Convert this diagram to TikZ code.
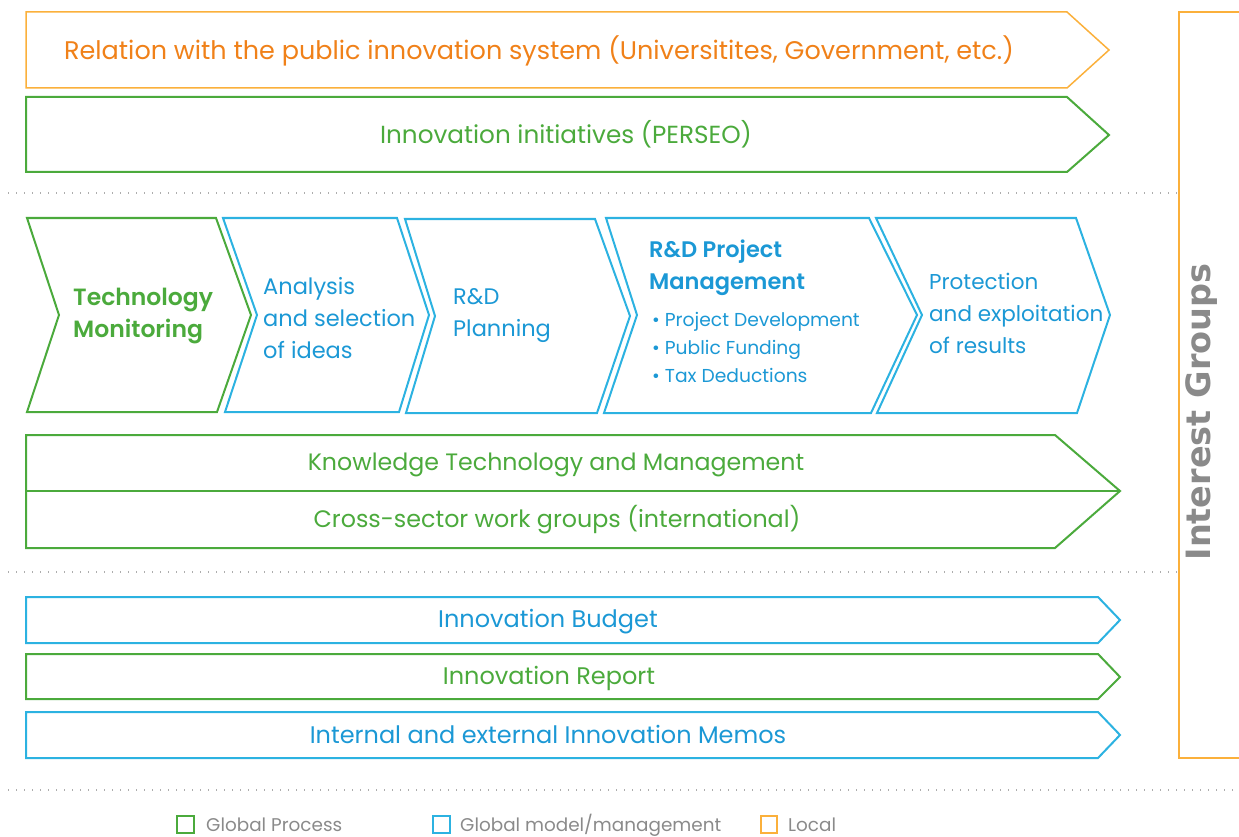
\documentclass[tikz,border=0pt]{standalone}
\usepackage{fontspec}
\setmainfont{Poppins}[BoldFont=Poppins SemiBold]
\newfontfamily\heavyfont{DejaVu Sans}
\definecolor{procgreen}{HTML}{4BAA3C}
\definecolor{modelblue}{HTML}{2CB2E1}
\definecolor{modeltext}{HTML}{1B98D5}
\definecolor{localorange}{HTML}{FBB03B}
\definecolor{localtext}{HTML}{F08119}
\definecolor{keygray}{HTML}{8A8A8A}
\begin{document}
\begin{tikzpicture}[x=1pt,y=-1pt,
	global/.style={draw=procgreen,line width=2pt,line join=miter},
	model/.style={draw=modelblue,line width=2pt,line join=miter},
	local/.style={draw=localorange,line width=1.5pt,line join=miter},
	sep/.style={draw=keygray!70,line width=1.2pt,dash pattern=on 1.2pt off 6.8pt},
	barlabel/.style={inner sep=0pt,anchor=base,font=\fontsize{24}{30}\selectfont},
	steplabel/.style={inner sep=0pt,anchor=west,align=left,font=\fontsize{22.5}{32}\selectfont},
	keylabel/.style={inner sep=0pt,anchor=base west,text=keygray,font=\fontsize{18.4}{22}\selectfont}]
				\useasboundingbox (0,0) rectangle (1239,837);
				\draw[local] (26,12) -- (1067,12) -- (1109,50) -- (1067,88) -- (26,88) -- cycle;
				\node[barlabel,text=localtext,font=\fontsize{25.5}{30}\selectfont] (public) at (539,60) {Relation with the public innovation system (Universitites, Government, etc.)};
				\draw[global] (26,97) -- (1067,97) -- (1109,135) -- (1067,172) -- (26,172) -- cycle;
				\node[barlabel,text=procgreen,font=\fontsize{24.7}{30}\selectfont] (perseo) at (566,143.5) {Innovation initiatives (PERSEO)};
				\draw[sep] (8,193) -- (1178,193);
				\draw[global] (27,218) -- (216,218) -- (251,315) -- (217,412) -- (27,412) -- (59,315) -- cycle;
				\node[steplabel,text=procgreen,font=\fontsize{23.5}{32}\selectfont\bfseries] (monitor) at (73,316) {Technology\\Monitoring};
				\draw[model] (223,218) -- (397,218) -- (429,315) -- (399,412) -- (225,412) -- (257,315) -- cycle;
				\node[steplabel,text=modeltext] (ideas) at (263,318) {Analysis\\and selection\\of ideas};
				\draw[model] (405,219) -- (595,219) -- (630,316) -- (597,413) -- (406,413) -- (435,316) -- cycle;
				\node[steplabel,text=modeltext] (planning) at (453,316) {R\&D\\Planning};
				\draw[model] (606,218) -- (869,218) -- (917,315) -- (871,413) -- (604,413) -- (637,315) -- cycle;
				\node[steplabel,text=modeltext,font=\fontsize{22.5}{32}\selectfont\bfseries] (project) at (649,268) {R\&D Project\\Management};
				\node[steplabel,text=modeltext,font=\fontsize{18.7}{28}\selectfont] (tasks) at (652,347) {• Project Development\\• Public Funding\\• Tax Deductions};
				\draw[model] (876,218) -- (1076,218) -- (1110,315) -- (1077,413) -- (877,413) -- (922,315) -- cycle;
				\node[steplabel,text=modeltext,font=\fontsize{21.5}{32}\selectfont] (results) at (929,313) {Protection\\and exploitation\\of results};
				\draw[global] (26,435) -- (1055,435) -- (1120,491) -- (1055,548) -- (26,548) -- cycle;
				\draw[global] (26,491) -- (1120,491);
				\node[barlabel,text=procgreen,font=\fontsize{23.7}{30}\selectfont] (knowledge) at (556,470.5) {Knowledge Technology and Management};
				\node[barlabel,text=procgreen,font=\fontsize{23.8}{30}\selectfont] (crosssector) at (557,527.5) {Cross-sector work groups (international)};
				\draw[sep] (8,572) -- (1178,572);
				\draw[model] (26,597) -- (1098,597) -- (1120,620) -- (1098,643) -- (26,643) -- cycle;
				\node[barlabel,text=modeltext] (budget) at (548,627.5) {Innovation Budget};
				\draw[global] (26,654) -- (1098,654) -- (1120,677) -- (1098,699) -- (26,699) -- cycle;
				\node[barlabel,text=procgreen] (report) at (549,684.5) {Innovation Report};
				\draw[model] (26,712) -- (1098,712) -- (1120,735) -- (1098,758) -- (26,758) -- cycle;
				\node[barlabel,text=modeltext] (memos) at (548,743.5) {Internal and external Innovation Memos};
				\draw[local] (1239,12) -- (1179,12) -- (1179,758) -- (1239,758);
				\node[inner sep=0pt,rotate=90,text=keygray,font=\fontsize{33.5}{36}\heavyfont\bfseries] (groups) at (1202,412) {Interest Groups};
				\draw[sep] (8,790) -- (1239,790);
				\draw[global] (177,816) rectangle (194,833);
				\node[keylabel] (keyglobal) at (206,831) {Global Process};
				\draw[model] (433,816) rectangle (450,833);
				\node[keylabel] (keymodel) at (460,831) {Global model/management};
				\draw[local,line width=2pt] (761,816) rectangle (777,833);
				\node[keylabel] (keylocal) at (788,831) {Local};
			\end{tikzpicture}
\end{document}
